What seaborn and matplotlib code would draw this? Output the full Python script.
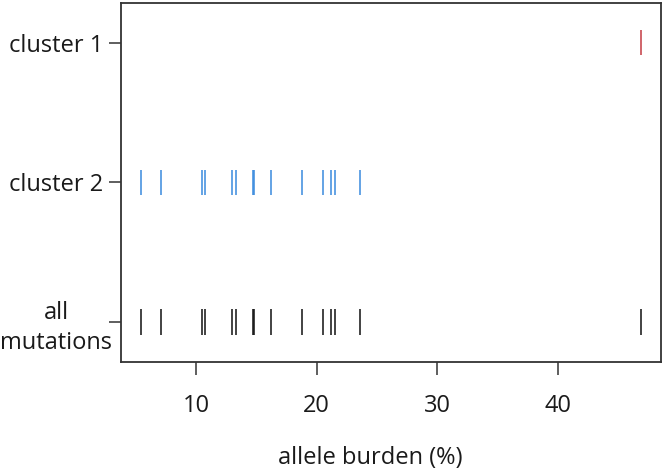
import matplotlib
matplotlib.use("Agg")
import matplotlib.pyplot as plt
import pandas as pd
import seaborn as sns

# allele burden (%) per mutation
cluster_1 = [46.9]
cluster_2 = [5.4, 7.1, 10.5, 10.7, 13.0, 13.3, 14.7, 14.8, 16.2,
             18.8, 20.5, 21.2, 21.5, 23.6]
all_mutations = cluster_2 + cluster_1

groups = ["cluster 1", "cluster 2", "all mutations"]
group_labels = ["cluster 1", "cluster 2", "all\nmutations"]
group_pos = [3, 2, 1]
colors = {"cluster 1": "#C43C43", "cluster 2": "#3A8BDE",
          "all mutations": "#111111"}

frame = pd.concat([
    pd.DataFrame({"group": "cluster 1", "burden": cluster_1}),
    pd.DataFrame({"group": "cluster 2", "burden": cluster_2}),
    pd.DataFrame({"group": "all mutations", "burden": all_mutations}),
], ignore_index=True)
frame["pos"] = frame["group"].map(dict(zip(groups, group_pos)))

sns.set_style("white")
plt.rcParams["font.family"] = ["Open Sans", "DejaVu Sans"]

fig = plt.figure(figsize=(6.64, 4.70), dpi=100)
ax = fig.add_axes([0.1818, 0.2304, 0.8137, 0.7632])

sns.scatterplot(
    data=frame, x="burden", y="pos", hue="group", palette=colors,
    marker="|", s=330, linewidth=1.3, alpha=0.85, legend=False, ax=ax,
)

# R-style 4% padding around the data range
lo, hi = frame["burden"].min(), frame["burden"].max()
pad = (hi - lo) * 0.04
ax.set_xlim(lo - pad, hi + pad)
ax.set_ylim(0.715, 3.285)

ax.set_xticks([10, 20, 30, 40])
ax.set_yticks(group_pos)
ax.set_yticklabels(group_labels, ha="center", multialignment="center",
                   linespacing=1.35)
ax.set_xlabel("allele burden (%)", fontsize=17, color="#1A1A1A")
ax.xaxis.set_label_coords(0.461, -0.235)
ax.set_ylabel("")

ax.tick_params(axis="x", length=9, width=1.1, color="#333333", pad=14,
               labelsize=17, labelcolor="#1A1A1A", bottom=True)
ax.tick_params(axis="y", length=9, width=1.1, color="#333333", pad=8,
               labelsize=17, labelcolor="#1A1A1A", left=True)
for lab in ax.get_yticklabels():
    lab.set_x(-0.076)

for spine in ax.spines.values():
    spine.set_color("#333333")
    spine.set_linewidth(1.3)

fig.savefig("out.png", dpi=100)
